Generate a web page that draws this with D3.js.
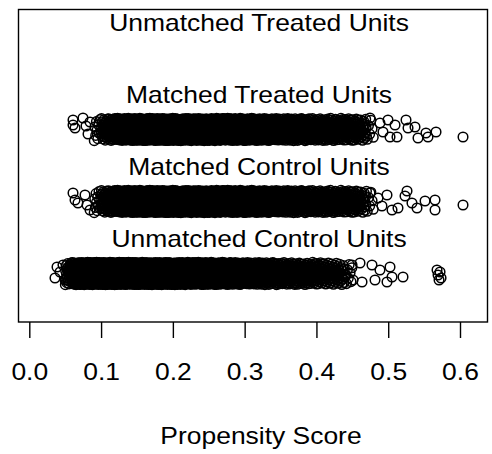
<!DOCTYPE html>
<html>
<head>
<meta charset="utf-8">
<script src="https://cdn.jsdelivr.net/npm/d3@7"></script>
<style>
  body { margin: 0; background: #fff; }
  svg { display: block; }
</style>
</head>
<body>
<div id="chart"></div>
<script>
// rows from bottom (1) to top (4)
const groups = ["Unmatched Control Units", "Matched Control Units", "Matched Treated Units", "Unmatched Treated Units"];
const xTicks = [0.0, 0.1, 0.2, 0.3, 0.4, 0.5, 0.6];
const xTitle = "Propensity Score";

// dense core of each group: number of units per 0.01 score bin
const ucBinStart = 0.05;
const ucCounts = [25, 70, 110, 130, 140, 140, 135, 130, 125, 120, 115, 110, 105, 100, 95, 90, 85, 80, 76, 72,
                  68, 64, 60, 56, 52, 48, 45, 42, 39, 36, 34, 32, 30, 28, 26, 24, 22, 20, 16, 8];
const mcBinStart = 0.09;
const mcCounts = [12, 28, 42, 55, 65, 75, 80, 85, 85, 85, 84, 80, 80, 78, 75, 72, 70, 68, 65, 62,
                  60, 58, 55, 52, 50, 48, 45, 42, 40, 38, 36, 34, 33, 32, 30, 28, 26, 16, 6];
const mtBinStart = 0.09;
const mtCounts = [10, 25, 40, 55, 65, 75, 80, 85, 85, 85, 85, 80, 80, 78, 75, 72, 70, 68, 65, 62,
                  60, 58, 55, 52, 50, 48, 45, 42, 40, 38, 36, 34, 32, 30, 30, 28, 26, 18, 6];

// sparse tails, units read one by one: [score, jitter]
const ucTail = [[0.0358, -0.063], [0.0386, 0.090], [0.0428, 0.021], [0.0469, 0.118], [0.0497, -0.090],
                [0.4496, 0.118], [0.4510, -0.090], [0.4607, 0.146], [0.4635, -0.118], [0.4774, 0.118],
                [0.4816, -0.090], [0.4885, 0.049], [0.4983, -0.118], [0.5025, 0.090], [0.5053, -0.049],
                [0.5206, -0.049], [0.5680, 0.049], [0.5694, -0.021], [0.5708, -0.090], [0.5722, 0.021],
                [0.5736, -0.063]];
const mcTail = [[0.0609, 0.118], [0.0637, 0.021], [0.0678, -0.021], [0.0776, 0.090], [0.0804, -0.049],
                [0.0846, -0.118], [0.4746, 0.118], [0.4858, 0.049], [0.4913, -0.063], [0.4983, 0.090],
                [0.5053, -0.118], [0.5136, -0.090], [0.5234, 0.076], [0.5262, 0.146], [0.5331, -0.021],
                [0.5401, -0.090], [0.5513, 0.007], [0.5652, 0.021], [0.5652, -0.118], [0.6042, -0.049]];
const mtTail = [[0.0609, 0.132], [0.0609, 0.063], [0.0637, 0.021], [0.0748, 0.160], [0.0790, 0.049],
                [0.0818, -0.062], [0.0846, 0.104], [0.4746, 0.160], [0.4885, 0.090], [0.4927, -0.035],
                [0.4997, 0.132], [0.5025, -0.104], [0.5095, 0.063], [0.5122, -0.104], [0.5248, 0.132],
                [0.5276, 0.021], [0.5373, 0.035], [0.5415, -0.118], [0.5526, -0.049], [0.5554, -0.104],
                [0.5666, -0.035], [0.6042, -0.104]];

const width = 492, height = 454;
const font = "'Liberation Sans', Arial, Helvetica, sans-serif";

const svg = d3.select("#chart").append("svg")
    .attr("width", width)
    .attr("height", height);

var x = d3.scaleLinear().domain([0, 0.6]).range([29.3, 460]);
var y = d3.scaleLinear().domain([1, 4]).range([273.5, 57.5]);

// spread the binned units across their bin, jittered vertically like a stripchart
function spread(start, counts, row) {
  var pts = [];
  counts.forEach(function(n, b) {
    for (var i = 0; i < n; i++) {
      var fx = (i + 0.5) / n;
      var fy = (i * 0.618034 + b * 0.37) % 1;
      pts.push([start + 0.01 * (b + fx), row + (fy - 0.5) * 0.31]);
    }
  });
  return pts;
}
function tail(list, row) {
  return list.map(function(d) { return [d[0], row + d[1]]; });
}

var points = [].concat(
  spread(ucBinStart, ucCounts, 1), tail(ucTail, 1),
  spread(mcBinStart, mcCounts, 2), tail(mcTail, 2),
  spread(mtBinStart, mtCounts, 3), tail(mtTail, 3)
);

svg.append("g")
  .selectAll("circle")
  .data(points)
  .join("circle")
    .attr("cx", function(d) { return x(d[0]); })
    .attr("cy", function(d) { return y(d[1]); })
    .attr("r", 4.8)
    .attr("fill", "none")
    .attr("stroke", "#000")
    .attr("stroke-width", 1.5);

// plot box
svg.append("rect")
    .attr("x", 18.5).attr("y", 9.5)
    .attr("width", 469).attr("height", 312.5)
    .attr("fill", "none")
    .attr("stroke", "#000")
    .attr("stroke-width", 1.4);

// group labels, half a row above each row
var labelX = x((0.0358 + 0.6042) / 2);
svg.append("g")
  .selectAll("text")
  .data(groups)
  .join("text")
    .attr("transform", function(d, i) { return "translate(" + labelX + "," + (y(i + 1.5) + 9) + ") scale(1.15,1)"; })
    .attr("text-anchor", "middle")
    .style("font-family", font)
    .style("font-size", "23px")
    .text(function(d) { return d; });

// x axis
var axis = svg.append("g")
    .attr("transform", "translate(0,322)")
    .call(d3.axisBottom(x).tickValues(xTicks).tickSize(16).tickSizeOuter(0).tickFormat(d3.format(".1f")));
axis.select(".domain").remove();
axis.selectAll(".tick line").attr("stroke-width", 1.4);
axis.selectAll(".tick text")
    .attr("y", 0).attr("dy", null)
    .attr("transform", "translate(0,58) scale(1.15,1)")
    .style("font-family", font)
    .style("font-size", "23px")
    .attr("fill", "#000");

svg.append("text")
    .attr("transform", "translate(261,444) scale(1.15,1)")
    .attr("text-anchor", "middle")
    .style("font-family", font)
    .style("font-size", "23px")
    .text(xTitle);
</script>
</body>
</html>
